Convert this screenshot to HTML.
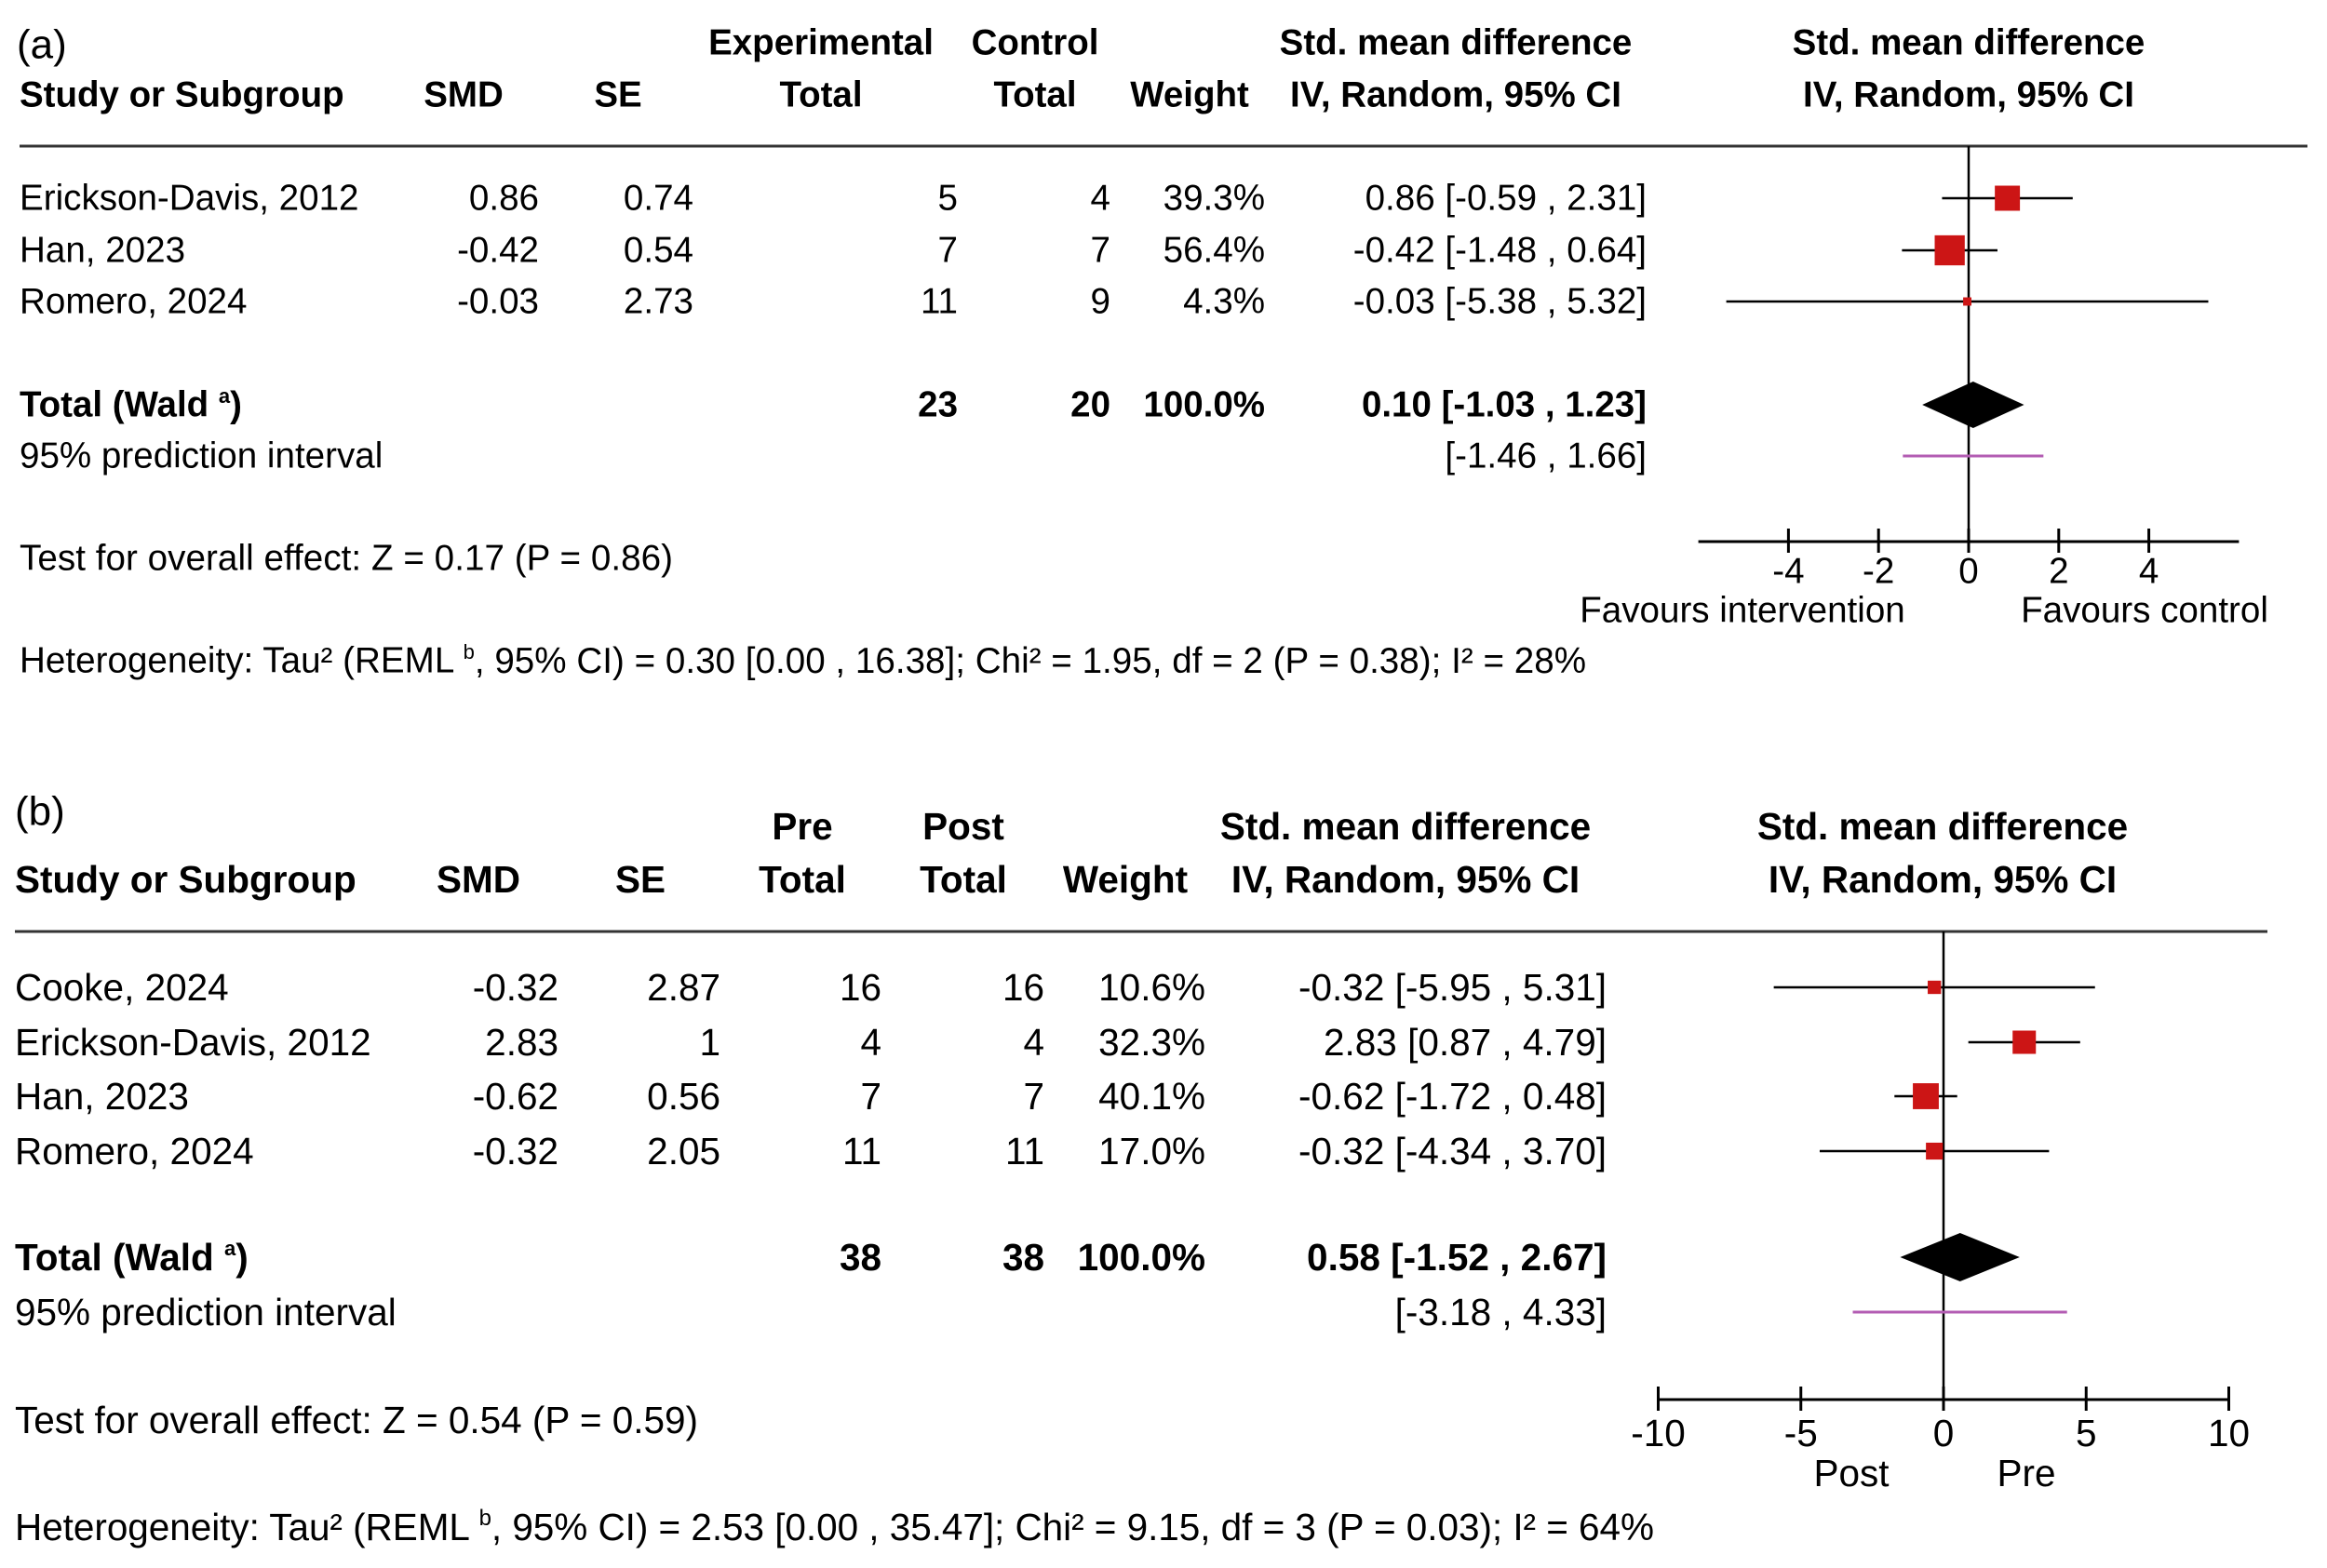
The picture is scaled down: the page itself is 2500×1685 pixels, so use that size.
<!DOCTYPE html>
<html><head><meta charset="utf-8"><style>
html,body{margin:0;padding:0;background:#fff}
svg{display:block}
text{font-family:"Liberation Sans",Arial,sans-serif;fill:#000;dominant-baseline:central}
</style></head><body>
<svg id="fig" width="2500" height="1685" viewBox="0 0 2500 1685" xmlns="http://www.w3.org/2000/svg"></svg>
<script>
// Panel (a) data
const aStudies=["Erickson-Davis, 2012","Han, 2023","Romero, 2024"];
const aSMD=[0.86,-0.42,-0.03];
const aSE=["0.74","0.54","2.73"];
const aExpN=[5,7,11];
const aCtlN=[4,7,9];
const aWeight=[39.3,56.4,4.3];
const aLo=[-0.59,-1.48,-5.38];
const aHi=[2.31,0.64,5.32];
const aTotal=[0.10,-1.03,1.23];
const aPI=[-1.46,1.66];
const aTicks=[-4,-2,0,2,4];
// Panel (b) data
const bStudies=["Cooke, 2024","Erickson-Davis, 2012","Han, 2023","Romero, 2024"];
const bSMD=[-0.32,2.83,-0.62,-0.32];
const bSE=["2.87","1","0.56","2.05"];
const bPreN=[16,4,7,11];
const bPostN=[16,4,7,11];
const bWeight=[10.6,32.3,40.1,17.0];
const bLo=[-5.95,0.87,-1.72,-4.34];
const bHi=[5.31,4.79,0.48,3.70];
const bTotal=[0.58,-1.52,2.67];
const bPI=[-3.18,4.33];
const bTicks=[-10,-5,0,5,10];

const svg=document.getElementById('fig');
const NS='http://www.w3.org/2000/svg';
function el(tag,attrs,name){const e=document.createElementNS(NS,tag);for(const k in attrs)e.setAttribute(k,attrs[k]);


svg.appendChild(e);return e;}
function t(x,y,s,anchor,bold,size,name){const e=el('text',{x:x,y:y,'text-anchor':anchor||'start','font-size':size,'font-weight':bold?'bold':'normal'},name);e.textContent=s;return e;}
function f2(v){return v.toFixed(2);}
function ci(m,l,h){return f2(m)+" ["+f2(l)+" , "+f2(h)+"]";}

function panel(cfg){
  const fs=cfg.fs, bs=cfg.bs, C=cfg.cols;
  t(cfg.labelX,cfg.labelY,cfg.label,'start',false,44,'panel-label');
  t(C.study,cfg.h2,"Study or Subgroup",'start',true,bs,'header-study');
  t(C.smdH,cfg.h2,"SMD",'middle',true,bs,'header-smd');
  t(C.seH,cfg.h2,"SE",'middle',true,bs,'header-se');
  t(C.n1H,cfg.h1,cfg.n1Label,'middle',true,bs,'header-group1');
  t(C.n1H,cfg.h2,"Total",'middle',true,bs,'header-group1-total');
  t(C.n2H,cfg.h1,cfg.n2Label,'middle',true,bs,'header-group2');
  t(C.n2H,cfg.h2,"Total",'middle',true,bs,'header-group2-total');
  t(C.wH,cfg.h2,"Weight",'middle',true,bs,'header-weight');
  t(C.ciH,cfg.h1,"Std. mean difference",'middle',true,bs,'header-smd-ci');
  t(C.ciH,cfg.h2,"IV, Random, 95% CI",'middle',true,bs,'header-smd-ci-method');
  t(C.plotH,cfg.h1,"Std. mean difference",'middle',true,bs,'header-plot');
  t(C.plotH,cfg.h2,"IV, Random, 95% CI",'middle',true,bs,'header-plot-method');
  el('line',{x1:cfg.lineL,x2:cfg.lineR,y1:cfg.lineY,y2:cfg.lineY,stroke:'#333','stroke-width':3},'header-rule');
  const X=v=>cfg.zero+v*cfg.unit;
  el('line',{x1:X(0),x2:X(0),y1:cfg.lineY,y2:cfg.axisY,stroke:'#000','stroke-width':2.5},'zero-line');
  cfg.studies.forEach((s,i)=>{
    const y=cfg.rowY[i];
    t(C.study,y,s,'start',false,fs,'study-name');
    t(C.smd,y,f2(cfg.smd[i]),'end',false,fs,'smd-value');
    t(C.se,y,cfg.se[i],'end',false,fs,'se-value');
    t(C.n1,y,String(cfg.n1[i]),'end',false,fs,'group1-total');
    t(C.n2,y,String(cfg.n2[i]),'end',false,fs,'group2-total');
    t(C.w,y,cfg.w[i].toFixed(1)+"%",'end',false,fs,'weight-value');
    t(C.ci,y,ci(cfg.smd[i],cfg.lo[i],cfg.hi[i]),'end',false,fs,'ci-value');
    el('line',{x1:X(cfg.lo[i]),x2:X(cfg.hi[i]),y1:y,y2:y,stroke:'#000','stroke-width':2.5},'ci-whisker');
    const sz=cfg.sq*Math.sqrt(cfg.w[i]);
    el('rect',{x:X(cfg.smd[i])-sz/2,y:y-sz/2,width:sz,height:sz,fill:'#cc1515'},'study-square');
  });
  const ty=cfg.totY, py=cfg.piY;
  t(C.study,ty,"Total (Wald",'start',true,bs,'total-label').innerHTML='Total (Wald <tspan font-size="22" dy="-10">a</tspan><tspan dy="10">)</tspan>';
  const s1=cfg.n1.reduce((a,b)=>a+b,0), s2=cfg.n2.reduce((a,b)=>a+b,0);
  t(C.n1,ty,String(s1),'end',true,bs,'total-group1');
  t(C.n2,ty,String(s2),'end',true,bs,'total-group2');
  t(C.w,ty,"100.0%",'end',true,bs,'total-weight');
  t(C.ci,ty,ci(cfg.tot[0],cfg.tot[1],cfg.tot[2]),'end',true,bs,'total-ci');
  el('polygon',{points:[X(cfg.tot[1])+','+ty,X(cfg.tot[0])+','+(ty-cfg.dh),X(cfg.tot[2])+','+ty,X(cfg.tot[0])+','+(ty+cfg.dh)].join(' '),fill:'#000'},'pooled-diamond');
  t(C.study,py,"95% prediction interval",'start',false,fs,'prediction-interval-label');
  t(C.ci,py,"["+f2(cfg.pi[0])+" , "+f2(cfg.pi[1])+"]",'end',false,fs,'prediction-interval-value');
  el('line',{x1:X(cfg.pi[0]),x2:X(cfg.pi[1]),y1:py,y2:py,stroke:'#b35cb3','stroke-width':3},'prediction-interval-line');
  el('line',{x1:X(cfg.axMin),x2:X(cfg.axMax),y1:cfg.axisY,y2:cfg.axisY,stroke:'#000','stroke-width':3},'x-axis');
  cfg.ticks.forEach(v=>{
    el('line',{x1:X(v),x2:X(v),y1:cfg.axisY-14,y2:cfg.axisY+12,stroke:'#000','stroke-width':3},'x-tick');
    t(X(v),cfg.tickY,String(v),'middle',false,fs,'x-tick-label');
  });
  t(cfg.fav1X,cfg.favY,cfg.fav1,'middle',false,fs,'favours-left-label');
  t(cfg.fav2X,cfg.favY,cfg.fav2,'middle',false,fs,'favours-right-label');
  t(C.study,cfg.testY,cfg.test,'start',false,fs,'overall-effect-test').setAttribute('textLength',cfg.testW);
  const h=t(C.study,cfg.hetY,"",'start',false,fs,'heterogeneity-stats');
  h.innerHTML=cfg.het;h.setAttribute('textLength',cfg.hetW);
}

panel({label:"(a)",labelX:18,labelY:48,fs:38.6,bs:38.5,h1:46,h2:102,lineY:157,lineL:21,lineR:2479,
  cols:{study:21,smd:579,smdH:498,se:745,seH:664,n1:1029,n1H:882,n2:1193,n2H:1112,w:1359,wH:1278,ci:1769,ciH:1564,plotH:2115},
  zero:2115,unit:48.4,axMin:-6.0,axMax:6.0,axisY:582,tickY:614,sq:4.3,dh:25,
  studies:aStudies,smd:aSMD,se:aSE,n1:aExpN,n2:aCtlN,w:aWeight,lo:aLo,hi:aHi,tot:aTotal,pi:aPI,ticks:aTicks,
  n1Label:"Experimental",n2Label:"Control",rowY:[213,269,324],totY:435,piY:490,
  fav1:"Favours intervention",fav2:"Favours control",fav1X:1872,fav2X:2304,favY:656,
  test:"Test for overall effect: Z = 0.17 (P = 0.86)",testY:600,testW:702,
  het:'Heterogeneity: Tau² (REML <tspan font-size="22" dy="-10">b</tspan><tspan dy="10">, 95% CI) = 0.30 [0.00 , 16.38]; Chi² = 1.95, df = 2 (P = 0.38); I² = 28%</tspan>',hetY:710,hetW:1683});

panel({label:"(b)",labelX:16,labelY:872,fs:40.5,bs:40.5,h1:888,h2:945,lineY:1001,lineL:16,lineR:2436,
  cols:{study:16,smd:600,smdH:514,se:774,seH:688,n1:947,n1H:862,n2:1122,n2H:1035,w:1295,wH:1209,ci:1726,ciH:1510,plotH:2087},
  zero:2088,unit:30.65,axMin:-10,axMax:10,axisY:1504,tickY:1540,sq:4.4,dh:26,
  studies:bStudies,smd:bSMD,se:bSE,n1:bPreN,n2:bPostN,w:bWeight,lo:bLo,hi:bHi,tot:bTotal,pi:bPI,ticks:bTicks,
  n1Label:"Pre",n2Label:"Post",rowY:[1061,1120,1178,1237],totY:1351,piY:1410,
  fav1:"Post",fav2:"Pre",fav1X:1989,fav2X:2177,favY:1583,
  test:"Test for overall effect: Z = 0.54 (P = 0.59)",testY:1526,testW:734,
  het:'Heterogeneity: Tau² (REML <tspan font-size="24" dy="-10">b</tspan><tspan dy="10">, 95% CI) = 2.53 [0.00 , 35.47]; Chi² = 9.15, df = 3 (P = 0.03); I² = 64%</tspan>',hetY:1641,hetW:1761});
</script>
</body></html>
